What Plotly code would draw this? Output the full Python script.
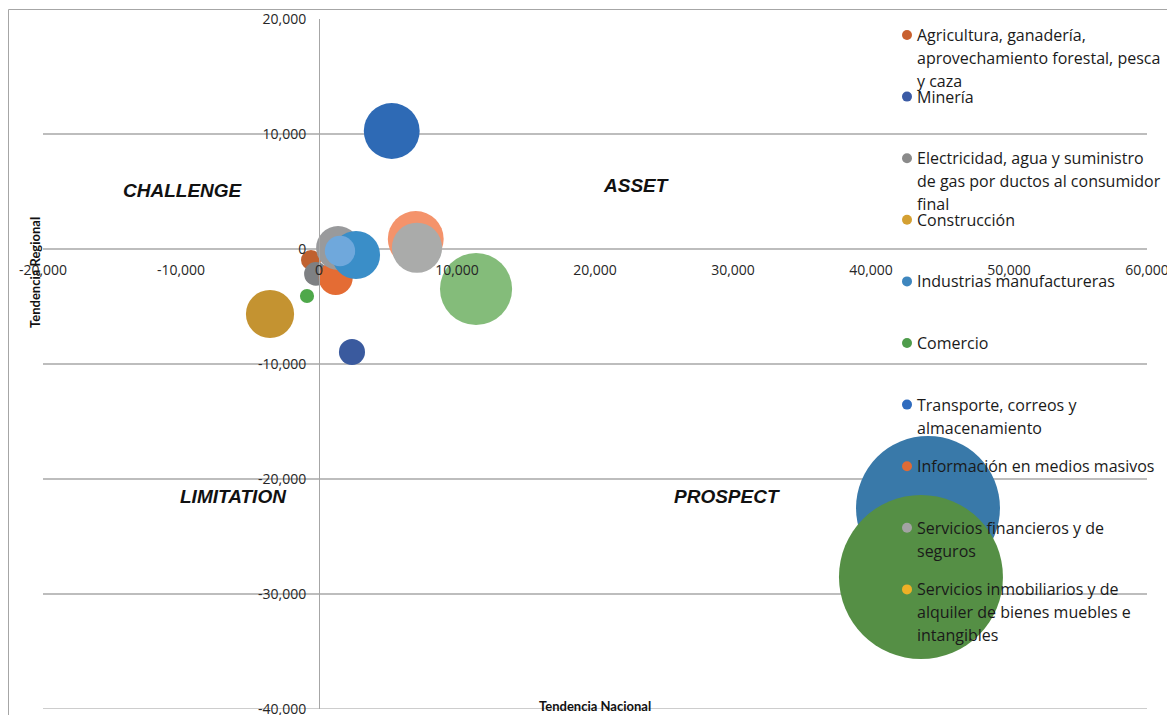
import plotly.graph_objects as go

# ---------------- data ----------------
bubble_names = [
    "Industrias manufactureras", "Comercio", "Serie 11",
    "Servicios financieros y de seguros", "Serie 12",
    "Transporte, correos y almacenamiento", "Construcción", "Serie 13",
    "Minería", "Agricultura, ganadería, aprovechamiento forestal, pesca y caza",
    "Electricidad, agua y suministro de gas por ductos al consumidor final",
    "Información en medios masivos", "Serie 14", "Serie 15", "Serie 16",
]
tend_nacional = [44130, 43620, 7010, 7100, 11380, 5270, -3550, -870,
                 2390, -580, -220, 1210, 1380, 2680, 1520]
tend_regional = [-22520, -28520, 870, 110, -3480, 10260, -5650, -4090,
                 -8960, -960, -2170, -2520, 90, -520, -170]
bubble_size = [51800, 67200, 7800, 6300, 13000, 7800, 5800, 500,
               1700, 1000, 1400, 2900, 4800, 5800, 2300]
bubble_colors = ["#3979A9", "#558F45", "#F4936B", "#AAABAA", "#84BC7A",
                 "#2E6AB5", "#C49331", "#4EA84A", "#3A5A9E", "#C0612F",
                 "#7E8083", "#E46C34", "#999A9C", "#3A8EC8", "#6FA8DC"]

legend_lines = [
    ["Agricultura, ganadería,", "aprovechamiento forestal, pesca", "y caza"],
    ["Minería"],
    ["Electricidad, agua y suministro", "de gas por ductos al consumidor", "final"],
    ["Construcción"],
    ["Industrias manufactureras"],
    ["Comercio"],
    ["Transporte, correos y", "almacenamiento"],
    ["Información en medios masivos"],
    ["Servicios financieros y de", "seguros"],
    ["Servicios inmobiliarios y de", "alquiler de bienes muebles e", "intangibles"],
]
legend_colors = ["#C8602F", "#3B5BA5", "#8A8A8A", "#D4A032", "#3E86BE",
                 "#4E9C4B", "#2F6BBE", "#E06B35", "#A3A3A3", "#EEB026"]

x_tickvals = [-20000, -10000, 0, 10000, 20000, 30000, 40000, 50000, 60000]
x_ticktext = ["-20,000", "-10,000", "0", "10,000", "20,000", "30,000",
              "40,000", "50,000", "60,000"]
y_tickvals = [20000, 10000, 0, -10000, -20000, -30000, -40000]
y_ticktext = ["20,000", "10,000", "0", "-10,000", "-20,000", "-30,000", "-40,000"]

quadrants = ["CHALLENGE", "ASSET", "LIMITATION", "PROSPECT"]

# ---------------- layout helpers ----------------
# page has an 8px body margin; figure occupies page pixels 8..1175 / 8..715
OFF = 8
W, H = 1175 - OFF, 715 - OFF
L, R, T, B = 43, 1147, 19, 709          # plot area in page pixels


def px_x(p):
    return (p - L) / (R - L)


def px_y(p):
    return (B - p) / (B - T)


max_diam = 164
sizeref = 2.0 * max(bubble_size) / (max_diam ** 2)

fig = go.Figure()
fig.add_trace(go.Scatter(
    x=tend_nacional, y=tend_regional, mode="markers",
    text=bubble_names,
    hovertemplate="%{text}<br>Nacional: %{x:,}<br>Regional: %{y:,}<extra></extra>",
    marker=dict(size=bubble_size, sizemode="area", sizeref=sizeref,
                color=bubble_colors, opacity=1, line=dict(width=0)),
    showlegend=False,
))

axis_font = dict(family="Open Sans", size=14, color="#262626")
grid_color = "#BDBDBD"

fig.update_layout(
    width=W, height=H,
    margin=dict(l=L - OFF, r=(1175 - R), t=T - OFF, b=(715 - B), autoexpand=False),
    paper_bgcolor="white", plot_bgcolor="white",
    showlegend=False,
    xaxis=dict(
        range=[-20000, 60000], tickvals=x_tickvals, ticktext=x_ticktext,
        anchor="free", position=px_y(249), side="bottom",
        showgrid=False, zeroline=False, showline=False,
        ticks="outside", ticklen=8, tickcolor="rgba(0,0,0,0)",
        tickfont=axis_font, automargin=False, fixedrange=True,
        ticklabeloverflow="allow",
    ),
    yaxis=dict(
        range=[-40000, 20000], tickvals=y_tickvals, ticktext=y_ticktext,
        anchor="free", position=px_x(319), side="left",
        showgrid=True, gridcolor=grid_color, gridwidth=1.5,
        zeroline=False, showline=True, linecolor="#A6A6A6", linewidth=1,
        ticks="outside", ticklen=10, tickcolor="rgba(0,0,0,0)",
        tickfont=axis_font, automargin=False, fixedrange=True,
        ticklabeloverflow="allow",
    ),
)

shapes = [dict(type="rect", xref="paper", yref="paper",
               x0=px_x(8.5), x1=px_x(1200), y0=px_y(740), y1=px_y(9.5),
               line=dict(color="#A6A6A6", width=1), fillcolor="rgba(0,0,0,0)",
               layer="below"),
          # bottom gridline at the range end (plotly skips it at the edge)
          dict(type="line", xref="paper", yref="y", x0=0, x1=1,
               y0=y_tickvals[-1], y1=y_tickvals[-1],
               line=dict(color=grid_color, width=1.5), layer="below")]
annotations = []

# quadrant labels
quad_pos = [(183, 190), (636, 185), (233, 496), (727, 497)]
for name, (qx, qy) in zip(quadrants, quad_pos):
    annotations.append(dict(
        text=f"<b><i>{name}</i></b>", xref="paper", yref="paper",
        x=px_x(qx), y=px_y(qy), showarrow=False, xanchor="center", yanchor="middle",
        font=dict(family="Liberation Sans", size=19, color="#111111")))

# axis titles
title_font = dict(family="Lato", size=13, color="#111111")
annotations.append(dict(text="<b>Tendencia Nacional</b>", xref="paper", yref="paper",
                        x=px_x(595), y=px_y(706), showarrow=False,
                        xanchor="center", yanchor="middle", font=title_font))
annotations.append(dict(text="<b>Tendencia Regional</b>", xref="paper", yref="paper",
                        x=px_x(35), y=px_y(273), showarrow=False, textangle=-90,
                        xanchor="center", yanchor="middle", font=title_font))

# manual legend (Excel-like fixed spacing)
leg_font = dict(family="Open Sans", size=16, color="#1A1A1A")
first_y, step, line_h = 35, 61.6, 23
for i, (lines, col) in enumerate(zip(legend_lines, legend_colors)):
    y0 = first_y + i * step
    shapes.append(dict(type="circle", xref="paper", yref="paper",
                       xsizemode="pixel", ysizemode="pixel",
                       xanchor=px_x(907), yanchor=px_y(y0),
                       x0=-5, x1=5, y0=-5, y1=5,
                       fillcolor=col, line=dict(width=0), layer="above"))
    for j, ln in enumerate(lines):
        annotations.append(dict(text=ln, xref="paper", yref="paper",
                                x=px_x(915), y=px_y(y0 + j * line_h),
                                showarrow=False, xanchor="left", yanchor="middle",
                                font=leg_font))

fig.update_layout(shapes=shapes, annotations=annotations)
fig.write_html("out.html")
